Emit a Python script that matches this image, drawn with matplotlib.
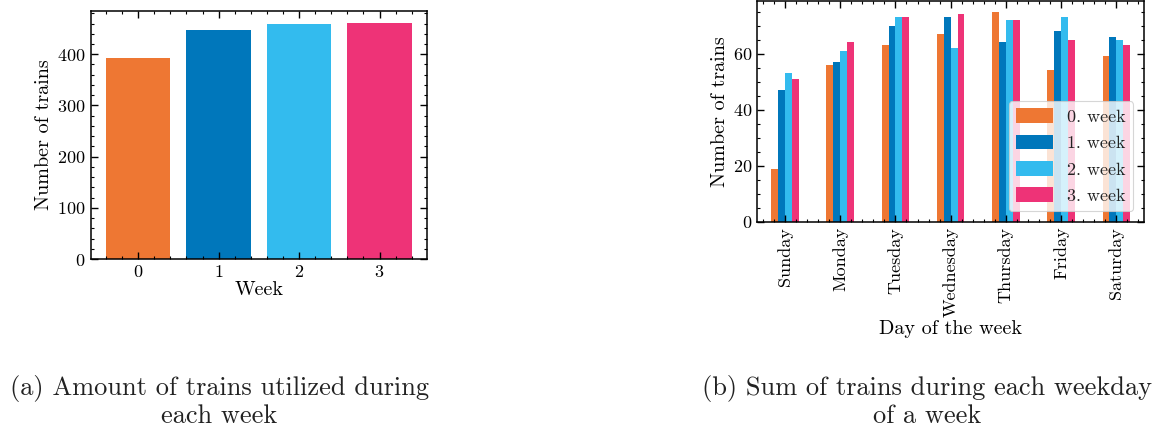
import matplotlib
matplotlib.use("Agg")
import matplotlib.pyplot as plt
import numpy as np
from matplotlib.ticker import AutoMinorLocator

# ---- data ----
weeks = [0, 1, 2, 3]
weekly_totals = [393, 447, 460, 462]

days = ["Sunday", "Monday", "Tuesday", "Wednesday", "Thursday", "Friday", "Saturday"]
week0 = [19, 56, 63, 67, 75, 54, 59]
week1 = [47, 57, 70, 73, 64, 68, 66]
week2 = [53, 61, 73, 62, 72, 73, 65]
week3 = [51, 64, 73, 74, 72, 65, 63]
series_labels = ["0. week", "1. week", "2. week", "3. week"]

colors = ["#EE7733", "#0077BB", "#33BBEE", "#EE3377"]

plt.rcParams.update({
    "font.family": "serif",
    "font.serif": ["cmr10"],
    "mathtext.fontset": "cm",
    "axes.unicode_minus": False,
    "axes.formatter.use_mathtext": True,
    "axes.linewidth": 1.1,
    "xtick.direction": "in",
    "ytick.direction": "in",
    "xtick.top": True,
    "ytick.right": True,
    "xtick.major.size": 5,
    "ytick.major.size": 5,
    "xtick.minor.size": 2.5,
    "ytick.minor.size": 2.5,
    "xtick.major.width": 1.0,
    "ytick.major.width": 1.0,
    "xtick.minor.width": 0.8,
    "ytick.minor.width": 0.8,
    "xtick.minor.visible": True,
    "ytick.minor.visible": True,
    "text.color": "#222222",
    "xtick.labelsize": 13,
    "ytick.labelsize": 13,
    "axes.labelsize": 14.5,
})

W, H = 1164, 434
fig = plt.figure(figsize=(W / 100, H / 100), dpi=100)

def ax_rect(l, r, t, b):
    return [l / W, 1 - b / H, (r - l) / W, (b - t) / H]

# ---- left panel ----
ax1 = fig.add_axes(ax_rect(90.7, 427, 10.7, 259))
ax1.bar(weeks, weekly_totals, color=colors, width=0.8)
ax1.set_xticks(weeks)
ax1.xaxis.set_minor_locator(AutoMinorLocator(5))
ax1.set_yticks([0, 100, 200, 300, 400])
ax1.yaxis.set_minor_locator(AutoMinorLocator(5))
ax1.set_xlabel("Week", labelpad=1)
ax1.set_ylabel("Number of trains", labelpad=3)

# ---- right panel ----
ax2 = fig.add_axes(ax_rect(757.3, 1144, 1.0, 222))
x = np.arange(len(days))
bw = 0.125
all_series = [week0, week1, week2, week3]
for i, (vals, lab) in enumerate(zip(all_series, series_labels)):
    ax2.bar(x + (i - 1.5) * bw, vals, width=bw, color=colors[i], label=lab)
ax2.set_xlim(-0.5, 6.5)
ax2.set_xticks(x)
ax2.set_xticklabels(days, rotation=90)
ax2.xaxis.set_minor_locator(AutoMinorLocator(5))
ax2.set_yticks([0, 20, 40, 60])
ax2.yaxis.set_minor_locator(AutoMinorLocator(4))
ax2.set_xlabel("Day of the week", labelpad=2)
ax2.set_ylabel("Number of trains", labelpad=3)
leg = ax2.legend(loc="lower right", fontsize=13, handlelength=2.05, handleheight=0.85,
                 labelspacing=0.55, handletextpad=0.8, borderaxespad=0.6,
                 framealpha=0.8, fancybox=True)
leg.get_frame().set_linewidth(0.8)

# ---- captions ----
cap_kw = dict(ha="center", va="baseline", fontsize=19, color="#222222")
fig.text(219 / W, 1 - 395 / H, "(a) Amount of trains utilized during", **cap_kw)
fig.text(219 / W, 1 - 423 / H, "each week", **cap_kw)
fig.text(927 / W, 1 - 395 / H, "(b) Sum of trains during each weekday", **cap_kw)
fig.text(927 / W, 1 - 423 / H, "of a week", **cap_kw)

fig.savefig("out.png", dpi=100)
